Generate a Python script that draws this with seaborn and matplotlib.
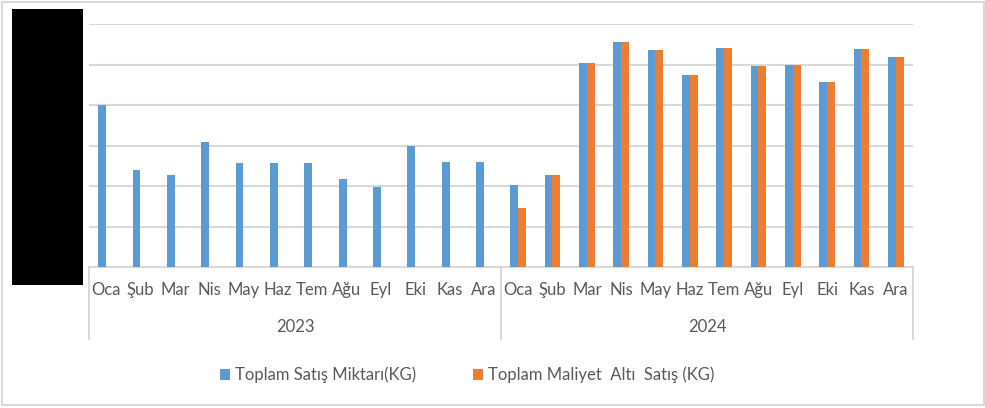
import matplotlib
matplotlib.use("Agg")
import matplotlib.pyplot as plt
from matplotlib.patches import Rectangle, Patch
import matplotlib.transforms as mtransforms
import numpy as np
import pandas as pd
import seaborn as sns

# data (units of one gridline step; y labels are hidden)
years = ["2023"] * 12 + ["2024"] * 12
months = ["Oca", "Şub", "Mar", "Nis", "May", "Haz", "Tem", "Ağu", "Eyl", "Eki", "Kas", "Ara"]
satis_miktari = [4.00, 2.39, 2.27, 3.08, 2.56, 2.56, 2.56, 2.17, 1.97, 2.98, 2.59, 2.59,
                 2.02, 2.27, 5.03, 5.55, 5.35, 4.73, 5.40, 4.96, 4.98, 4.56, 5.38, 5.18]
maliyet_alti = [None] * 12 + [1.45, 2.27, 5.03, 5.55, 5.35, 4.73, 5.40, 4.96, 4.98, 4.56, 5.38, 5.18]
series_names = ["Toplam Satış Miktarı(KG)", "Toplam Maliyet  Altı  Satış (KG)"]
colors = ["#5B9BD5", "#ED7D31"]

sns.set_style("white")
plt.rcParams["font.family"] = ["Lato", "DejaVu Sans"]
text_color = "#595959"
grid_color = "#D9D9D9"

slots = [f"{y}-{m}" for y, m in zip(years, months * 2)]
df = pd.DataFrame({
    "slot": slots * 2,
    "series": [series_names[0]] * 24 + [series_names[1]] * 24,
    "value": satis_miktari + maliyet_alti,
})
df["value"] = df["value"].astype(float)

fig = plt.figure(figsize=(9.85, 4.08), dpi=100)
ax = fig.add_axes([89 / 985, 1 - 267 / 408, 824 / 985, 243 / 408])

sns.barplot(data=df, x="slot", y="value", hue="series", order=slots,
            hue_order=series_names, palette=colors, width=0.466,
            saturation=1, errorbar=None, legend=False, ax=ax, zorder=3)
for p in ax.patches:
    p.set_linewidth(0)

ax.set_xlim(-0.5, 23.5)
ax.set_ylim(0, 6)
ax.set_yticks(np.arange(0, 7, 1))
ax.set_yticklabels([])
ax.yaxis.grid(True, color=grid_color, linewidth=1.5, zorder=0)
ax.tick_params(axis="y", length=0)
for s in ["top", "right", "left"]:
    ax.spines[s].set_visible(False)
ax.spines["bottom"].set_color(grid_color)
ax.spines["bottom"].set_linewidth(1.5)

ax.set_xticks(range(24))
ax.set_xticklabels(months * 2, color=text_color, fontsize=12)
ax.tick_params(axis="x", length=0, pad=11)
ax.set_xlabel("")
ax.set_ylabel("")

# multi-level category axis: separators and year labels
trans = mtransforms.blended_transform_factory(ax.transData, ax.transAxes)
for xv in [-0.5, 11.5, 23.5]:
    ax.plot([xv, xv], [0, -0.296], transform=trans, color=grid_color,
            linewidth=1.5, clip_on=False)
for i, yr in enumerate(["2023", "2024"]):
    ax.text(5.5 + 12 * i, -0.247, yr, transform=trans, ha="center", va="center",
            color=text_color, fontsize=12)

handles = [Patch(facecolor=c, edgecolor="none") for c in colors]
fig.legend(handles, series_names, loc="center", bbox_to_anchor=(467 / 985, 33 / 408),
           ncol=2, frameon=False, fontsize=12, labelcolor=text_color,
           handlelength=0.6, handleheight=0.6, handletextpad=0.3, columnspacing=3.4)

# redaction box over the value axis and the outer chart border
fig.patches.append(Rectangle((12 / 985, 1 - 285 / 408), 71 / 985, 276 / 408,
                             transform=fig.transFigure, facecolor="black",
                             edgecolor="none", zorder=10))
fig.patches.append(Rectangle((1.5 / 985, 3 / 408), 982 / 985, 403 / 408,
                             transform=fig.transFigure, facecolor="none",
                             edgecolor=grid_color, linewidth=1.5))

fig.savefig("out.png", dpi=100)
plt.close(fig)
